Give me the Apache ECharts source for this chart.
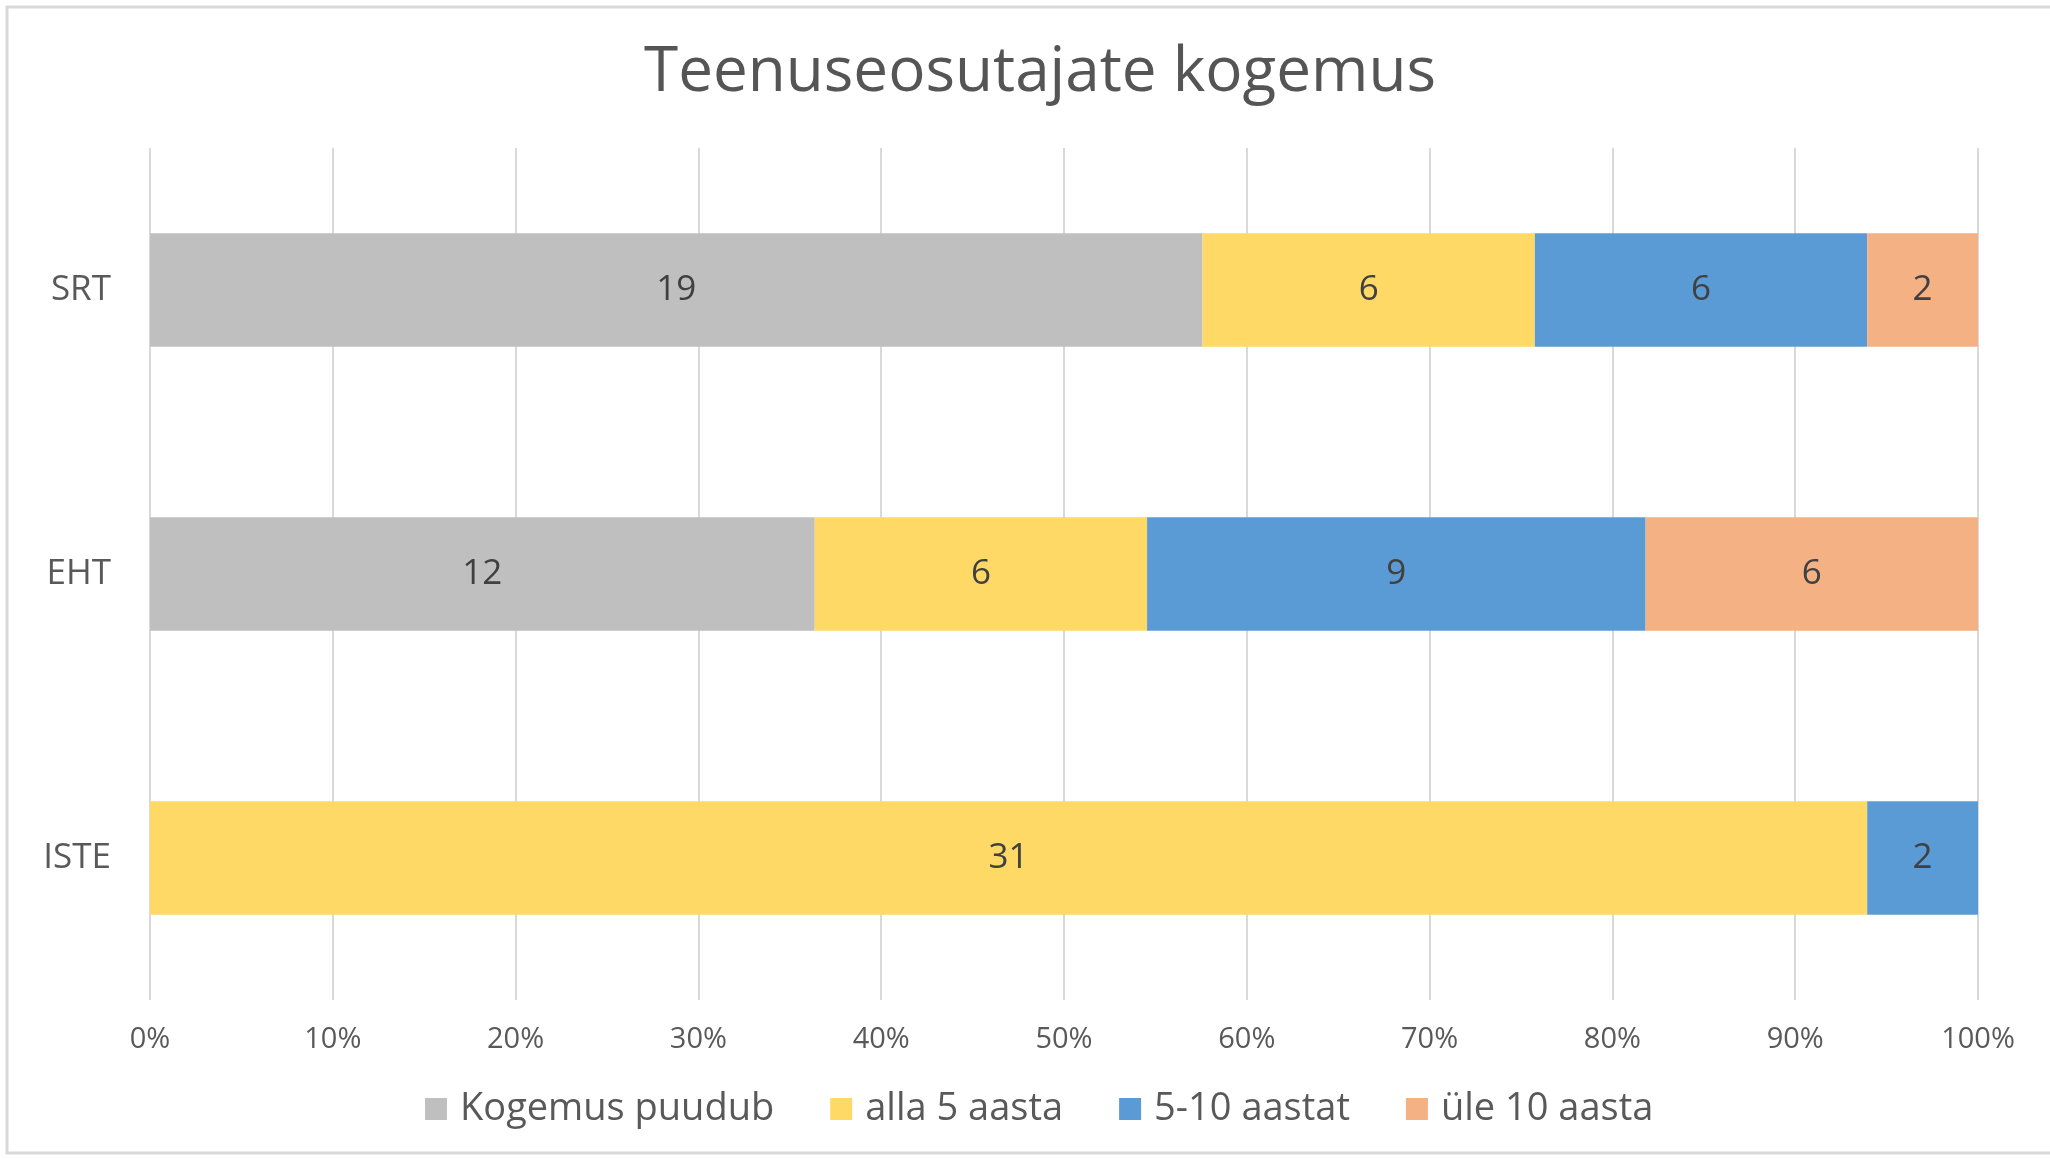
<!DOCTYPE html>
<html>
<head>
<meta charset="utf-8">
<script src="https://cdn.jsdelivr.net/npm/echarts@6/dist/echarts.min.js"></script>
<style>
  html, body { margin: 0; padding: 0; background: #fff; }
  #myChart { width: 2050px; height: 1159px; }
</style>
</head>
<body>
<div id="myChart"></div>
<script>
var categories = ['SRT', 'EHT', 'ISTE'];
var seriesNames = ['Kogemus puudub', 'alla 5 aasta', '5-10 aastat', 'üle 10 aasta'];
var kogemusPuudub = [19, 12, 0];
var alla5 = [6, 6, 31];
var aastat5_10 = [6, 9, 2];
var yle10 = [2, 6, 0];
var xTicks = ['0%', '10%', '20%', '30%', '40%', '50%', '60%', '70%', '80%', '90%', '100%'];

var colors = ['#BFBFBF', '#FFD966', '#5B9BD5', '#F4B183'];
var raw = [kogemusPuudub, alla5, aastat5_10, yle10];
var totals = categories.map(function (c, i) {
    return raw.reduce(function (s, arr) { return s + arr[i]; }, 0);
});

var myChart = echarts.init(document.getElementById('myChart'));
var font = 'Open Sans';

myChart.setOption({
    animation: false,
    color: colors,
    title: {
        text: 'Teenuseosutajate kogemus',
        left: 1035,
        textAlign: 'center',
        top: 37,
        textStyle: { fontFamily: font, fontSize: 62, fontWeight: 'normal', color: '#555555' }
    },
    graphic: [{
        type: 'rect',
        shape: { x: 7, y: 7, width: 2100, height: 1146 },
        style: { fill: 'none', stroke: '#D9D9D9', lineWidth: 3 },
        silent: true
    }],
    legend: {
        bottom: 26,
        left: 420,
        itemWidth: 22,
        itemHeight: 22,
        itemGap: 56,
        icon: 'rect',
        textStyle: { fontFamily: font, fontSize: 38, color: '#595959', padding: [0, 0, 0, 8] },
        data: seriesNames
    },
    grid: { left: 150, right: 72, top: 148, bottom: 159 },
    xAxis: {
        type: 'value',
        min: 0,
        max: 100,
        interval: 10,
        axisLine: { show: false },
        axisTick: { show: false },
        splitLine: { lineStyle: { color: '#D9D9D9', width: 2 } },
        axisLabel: {
            fontFamily: font, fontSize: 29, color: '#595959', margin: 25,
            formatter: function (v) { return xTicks[Math.round(v / 10)]; }
        }
    },
    yAxis: {
        type: 'category',
        data: categories,
        inverse: true,
        axisLine: { show: false },
        axisTick: { show: false },
        axisLabel: { fontFamily: font, fontSize: 35, color: '#595959', margin: 39 }
    },
    series: raw.map(function (arr, k) {
        return {
            name: seriesNames[k],
            type: 'bar',
            stack: 'total',
            barWidth: '40%',
            data: arr.map(function (v, i) { return { value: v / totals[i] * 100, raw: v }; }),
            label: {
                show: true,
                position: 'inside',
                fontFamily: font,
                fontSize: 35,
                color: '#404040',
                formatter: function (p) { return p.data.raw ? String(p.data.raw) : ''; }
            }
        };
    })
});

window.onresize = function () {
    myChart.resize();
};
</script>
</body>
</html>
